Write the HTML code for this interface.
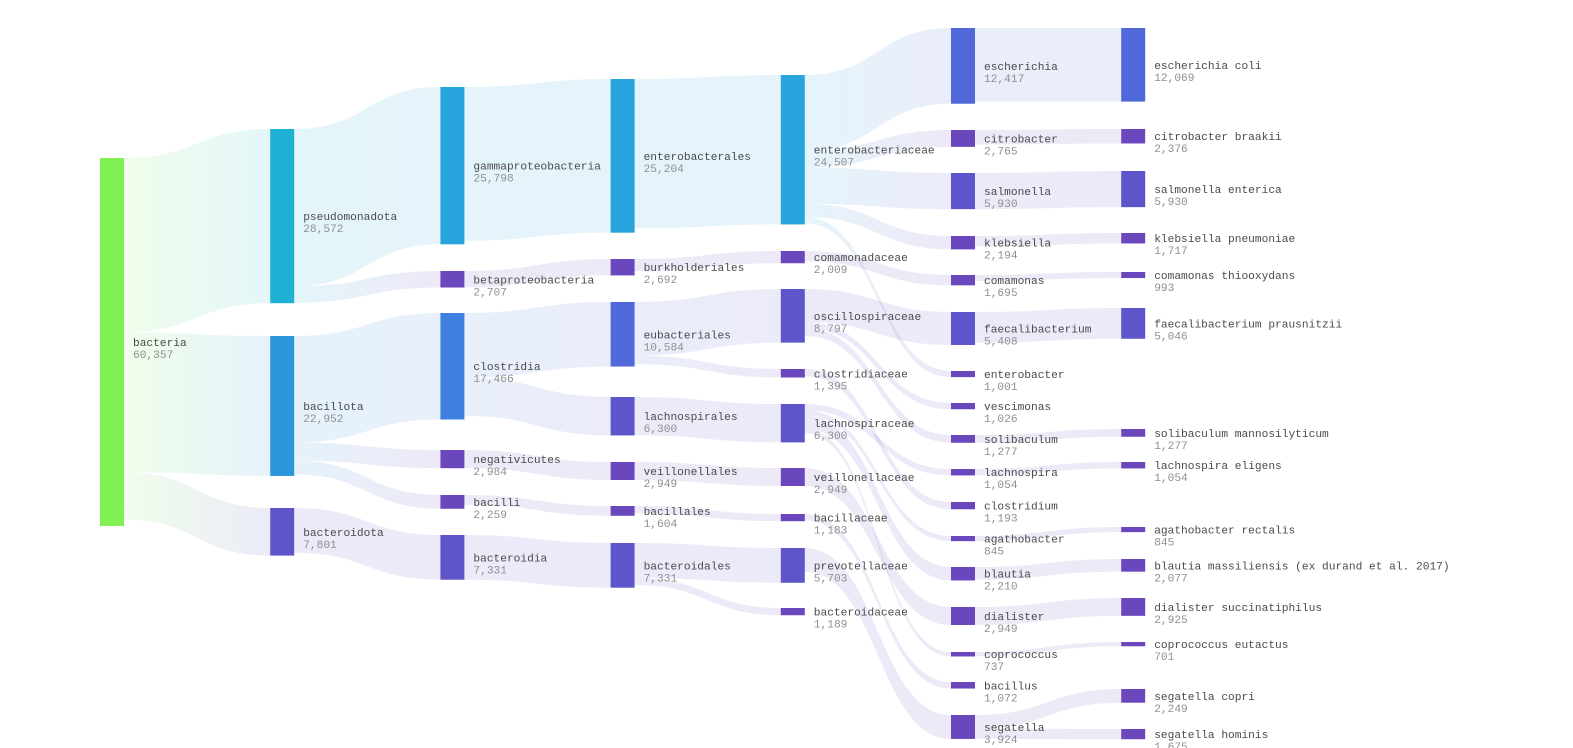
<!DOCTYPE html>
<html><head><meta charset="utf-8">
<style>
html,body{margin:0;padding:0;background:#fff;}
svg{display:block;}
text{font-family:"Liberation Mono",monospace;font-size:11.2px;}
.nm{fill:#4a4a4a;}
.vl{fill:#8f8f8f;}
</style></head>
<body>
<svg id="chart" width="1573" height="748" viewBox="0 0 1573 748">
<defs id="defs"></defs>
<g id="links"></g>
<g id="nodes"></g>
</svg>
<script>
const nodeNames = ["bacteria","pseudomonadota","bacillota","bacteroidota","gammaproteobacteria","betaproteobacteria","clostridia","negativicutes","bacilli","bacteroidia","enterobacterales","burkholderiales","eubacteriales","lachnospirales","veillonellales","bacillales","bacteroidales","enterobacteriaceae","comamonadaceae","oscillospiraceae","clostridiaceae","lachnospiraceae","veillonellaceae","bacillaceae","prevotellaceae","bacteroidaceae","escherichia","citrobacter","salmonella","klebsiella","comamonas","faecalibacterium","enterobacter","vescimonas","solibaculum","lachnospira","clostridium","agathobacter","blautia","dialister","coprococcus","bacillus","segatella","escherichia coli","citrobacter braakii","salmonella enterica","klebsiella pneumoniae","comamonas thiooxydans","faecalibacterium prausnitzii","solibaculum mannosilyticum","lachnospira eligens","agathobacter rectalis","blautia massiliensis (ex durand et al. 2017)","dialister succinatiphilus","coprococcus eutactus","segatella copri","segatella hominis"];
const nodeValues = [60357,28572,22952,7801,25798,2707,17466,2984,2259,7331,25204,2692,10584,6300,2949,1604,7331,24507,2009,8797,1395,6300,2949,1183,5703,1189,12417,2765,5930,2194,1695,5408,1001,1026,1277,1054,1193,845,2210,2949,737,1072,3924,12069,2376,5930,1717,993,5046,1277,1054,845,2077,2925,701,2249,1675];
const nodeColumn = [0,1,1,1,2,2,2,2,2,2,3,3,3,3,3,3,3,4,4,4,4,4,4,4,4,4,5,5,5,5,5,5,5,5,5,5,5,5,5,5,5,5,5,6,6,6,6,6,6,6,6,6,6,6,6,6,6];
const nodeTop = [158,129,336,508,87,271,313,450,495,535,79,259,302,397,462,506,543,75,251,289,369,404,468,514,548,608,28,130,173,236,275,312,371,403,435,469,502,536,567,607,652,682,715,28,129,171,233,272,308,429,462,527,559,598,642,689,729];
const linkSource = [0,0,0,1,1,2,2,2,3,4,5,6,6,7,8,9,10,11,12,12,13,14,15,16,16,17,17,17,17,17,18,19,19,19,20,21,21,21,21,22,23,24,26,27,28,29,30,31,34,35,37,38,39,40,42,42];
const linkTarget = [1,2,3,4,5,6,7,8,9,10,11,12,13,14,15,16,17,18,19,20,21,22,23,24,25,26,27,28,29,32,30,31,33,34,36,35,37,38,40,39,41,42,43,44,45,46,47,48,49,50,51,52,53,54,55,56];
const linkValue = [28572,22952,7801,25798,2707,17466,2984,2259,7331,25204,2692,10584,6300,2949,1604,7331,24507,2009,8797,1395,6300,2949,1183,5703,1189,12417,2765,5930,2194,1001,1695,5408,1026,1277,1193,1054,845,2210,737,2949,1072,3924,12069,2376,5930,1717,993,5046,1277,1054,845,2077,2925,701,2249,1675];

const K = 368/60357, NW = 24;
const colX = c => 100 + c*170.2;
const hOf = v => Math.max(3, v*K);
function colorOf(i){
  const v = nodeValues[i];
  if(i===0) return "#80f055";
  if(i===1) return "#1fb0d4";
  if(v>=20000) return i===2?"#2b96dc":"#27a4dc";
  if(v>=15000) return "#3d80e0";
  if(v>=10000) return "#5068d9";
  if(v>=5000) return "#5f55ca";
  return "#6a47bd";
}
const NS="http://www.w3.org/2000/svg";
const defs=document.getElementById('defs'), gl=document.getElementById('links'), gn=document.getElementById('nodes');
const outOff = nodeNames.map(()=>0), inOff = nodeNames.map(()=>0);
linkSource.forEach((s,i)=>{
  const t=linkTarget[i], w=linkValue[i]*K;
  const x0=colX(nodeColumn[s])+NW, x1=colX(nodeColumn[t]);
  const y0=nodeTop[s]+outOff[s], y1=nodeTop[t]+inOff[t];
  outOff[s]+=w; inOff[t]+=w;
  const xm=(x0+x1)/2;
  const gid='g'+i;
  const lg=document.createElementNS(NS,'linearGradient');
  lg.setAttribute('id',gid);lg.setAttribute('gradientUnits','userSpaceOnUse');
  lg.setAttribute('x1',x0);lg.setAttribute('x2',x1);lg.setAttribute('y1',0);lg.setAttribute('y2',0);
  [[0,colorOf(s)],[1,colorOf(t)]].forEach(([o,c])=>{const st=document.createElementNS(NS,'stop');st.setAttribute('offset',o);st.setAttribute('stop-color',c);st.setAttribute('stop-opacity',0.12);lg.appendChild(st);});
  defs.appendChild(lg);
  const p=document.createElementNS(NS,'path');
  p.setAttribute('d',`M${x0},${y0}C${xm},${y0} ${xm},${y1} ${x1},${y1}L${x1},${y1+w}C${xm},${y1+w} ${xm},${y0+w} ${x0},${y0+w}Z`);
  p.setAttribute('fill',`url(#${gid})`);
  
  
  gl.appendChild(p);
});
nodeNames.forEach((n,i)=>{
  const x=colX(nodeColumn[i]), y=nodeTop[i], h=hOf(nodeValues[i]);
  const g=document.createElementNS(NS,'g');
  
  
  const r=document.createElementNS(NS,'rect');
  r.setAttribute('x',x);r.setAttribute('y',y);r.setAttribute('width',NW);r.setAttribute('height',h);r.setAttribute('fill',colorOf(i));
  
  
  g.appendChild(r);
  const cy=y+h/2;
  const t1=document.createElementNS(NS,'text');
  t1.setAttribute('x',x+NW+9);t1.setAttribute('y',cy+4);t1.setAttribute('class','nm');t1.textContent=n;
  
  
  const t2=document.createElementNS(NS,'text');
  t2.setAttribute('x',x+NW+9);t2.setAttribute('y',cy+16);t2.setAttribute('class','vl');t2.textContent=nodeValues[i].toLocaleString('en-US');
  
  
  g.appendChild(t1);g.appendChild(t2);
  gn.appendChild(g);
});
</script>
</body></html>
